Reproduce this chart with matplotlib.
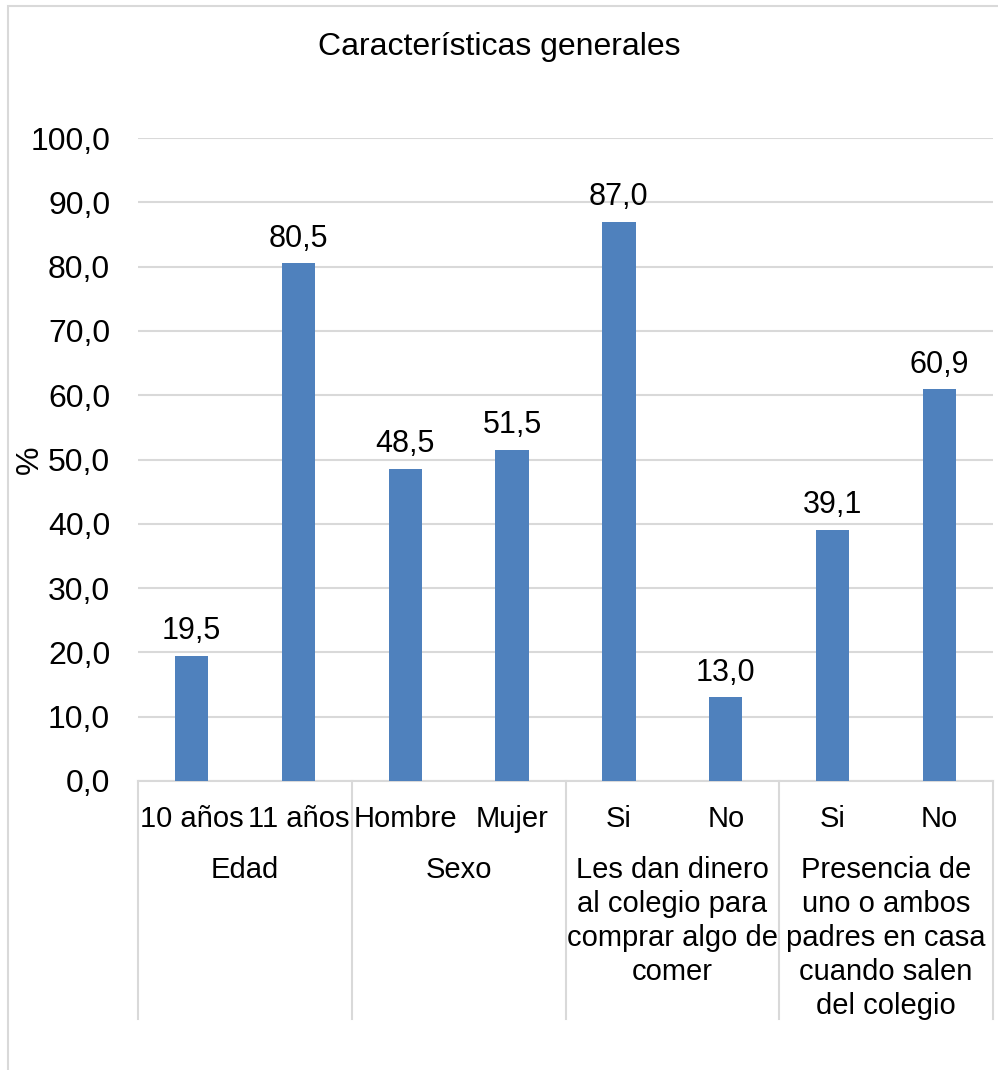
import numpy as np
import matplotlib
matplotlib.use("Agg")
from matplotlib import pyplot as plt
from matplotlib.patches import Rectangle

plt.rcParams['font.family'] = ['Liberation Sans', 'DejaVu Sans']

categories = ["10 años", "11 años", "Hombre", "Mujer", "Si", "No", "Si", "No"]
values = [19.5, 80.5, 48.5, 51.5, 87.0, 13.0, 39.1, 60.9]
groups = ["Edad", "Sexo",
          "Les dan dinero\nal colegio para\ncomprar algo de\ncomer",
          "Presencia de\nuno o ambos\npadres en casa\ncuando salen\ndel colegio"]
group_sizes = [2, 2, 2, 2]
yticks = [0, 10, 20, 30, 40, 50, 60, 70, 80, 90, 100]

W, H = 998, 1070
bar_color = "#4f81bd"
grid_color = "#d9d9d9"

fig = plt.figure(figsize=(W / 100, H / 100), dpi=100)

# plot area in pixels: left 138, right 993, top 138, bottom 781
left, right, top, bottom = 138, 993, 138, 781
ax = fig.add_axes([left / W, (H - bottom) / H, (right - left) / W, (bottom - top) / H])

x = np.arange(len(values))
ax.bar(x, values, width=0.31, color=bar_color, zorder=3)
ax.set_xlim(-0.5, len(values) - 0.5)
ax.set_ylim(0, 100)

ax.set_yticks(yticks)
ax.set_yticklabels([f"{t:.1f}".replace(".", ",") for t in yticks], fontsize=23)
ax.tick_params(axis="y", length=0, pad=20)
ax.yaxis.grid(True, color=grid_color, linewidth=1.5, zorder=0)

ax.set_xticks(x)
ax.set_xticklabels(categories, fontsize=21)
ax.tick_params(axis="x", length=0, pad=17)

for s in ["top", "right", "left"]:
    ax.spines[s].set_visible(False)
ax.spines["bottom"].set_color(grid_color)
ax.spines["bottom"].set_linewidth(1.5)

for xi, v in zip(x, values):
    ax.annotate(f"{v:.1f}".replace(".", ","), (xi, v), xytext=(0, 7),
                textcoords="offset points", ha="center", va="bottom", fontsize=22)

# group separators and group labels under the category axis
trans = ax.get_xaxis_transform()
ax_h = bottom - top
sep_bottom = -(1019 - bottom) / ax_h
edges = np.concatenate([[0], np.cumsum(group_sizes)]) - 0.5
for e in edges:
    ax.plot([e, e], [0, sep_bottom], transform=trans, color=grid_color,
            linewidth=1.5, clip_on=False)
for i, g in enumerate(groups):
    cx = (edges[i] + edges[i + 1]) / 2
    ax.text(cx, -(856 - bottom) / ax_h, g, transform=trans, ha="center", va="top",
            fontsize=21, linespacing=1.27)

fig.text(0.5, 1 - 47 / H, "Características generales", ha="center", va="center", fontsize=23)
fig.text(30 / W, 1 - 460 / H, "%", ha="center", va="center", rotation=90, fontsize=23)

# chart border
fig.patches.append(Rectangle((8 / W, -0.05), 1.1, 1 - 6 / H + 0.05, transform=fig.transFigure,
                             fill=False, edgecolor=grid_color, linewidth=1.5))

fig.savefig("out.png", dpi=100)
